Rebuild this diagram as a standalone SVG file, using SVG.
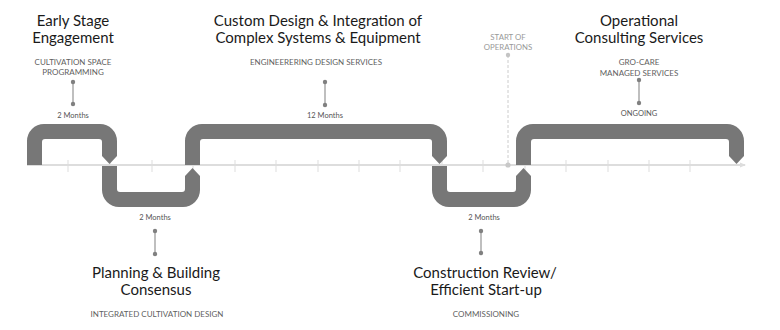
<svg xmlns="http://www.w3.org/2000/svg" width="780" height="330" viewBox="0 0 780 330">
<style>
.title{font-family:Lato,"Open Sans",sans-serif;font-size:15px;fill:#1a1a1a;text-anchor:middle}
.sub{font-family:Lato,"Open Sans",sans-serif;font-size:8px;fill:#5f5f5f;text-anchor:middle}
.dur{font-family:Lato,"Open Sans",sans-serif;font-size:7.5px;fill:#555;text-anchor:middle}
.start{font-family:Lato,"Open Sans",sans-serif;font-size:7.8px;fill:#999;text-anchor:middle}
.stem{stroke:#aaa;stroke-width:1.5}
.dot{fill:#808080}
.band{fill:#777}
.tick{stroke:#ddd;stroke-width:1}
</style>
<defs>
<marker id="axisArrow" markerWidth="6" markerHeight="6" refX="5" refY="3" orient="auto" markerUnits="userSpaceOnUse">
<path d="M0,0.5 L6,3 L0,5.5 Z" fill="#ddd"/>
</marker>
</defs>
<rect width="780" height="330" fill="#fff"/>

<g id="timeline">
<line x1="27" y1="165" x2="745" y2="165" stroke="#ddd" stroke-width="2" marker-end="url(#axisArrow)"/>
<line class="tick" x1="68" y1="160" x2="68" y2="172"/>
<line class="tick" x1="110" y1="160" x2="110" y2="172"/>
<line class="tick" x1="152" y1="160" x2="152" y2="172"/>
<line class="tick" x1="193" y1="160" x2="193" y2="172"/>
<line class="tick" x1="235" y1="160" x2="235" y2="172"/>
<line class="tick" x1="276" y1="160" x2="276" y2="172"/>
<line class="tick" x1="318" y1="160" x2="318" y2="172"/>
<line class="tick" x1="359" y1="160" x2="359" y2="172"/>
<line class="tick" x1="400" y1="160" x2="400" y2="172"/>
<line class="tick" x1="442" y1="160" x2="442" y2="172"/>
<line class="tick" x1="483" y1="160" x2="483" y2="172"/>
<line class="tick" x1="525" y1="160" x2="525" y2="172"/>
<line class="tick" x1="566" y1="160" x2="566" y2="172"/>
<line class="tick" x1="608" y1="160" x2="608" y2="172"/>
<line class="tick" x1="649" y1="160" x2="649" y2="172"/>
<line class="tick" x1="690" y1="160" x2="690" y2="172"/>
</g>

<g id="start-of-operations">
<text class="start" x="508" y="40">START OF</text>
<text class="start" x="508" y="50">OPERATIONS</text>
<line x1="508" y1="55" x2="508" y2="165" stroke="#ccc" stroke-width="1" stroke-dasharray="3,2"/>
<circle cx="508" cy="55" r="2.2" fill="#c4c4c4"/>
<circle cx="508" cy="165" r="2.6" fill="#c8c8c8"/>
</g>

<g id="connectors">
<path class="band" d="M27,165 L27,141 A17,17 0 0 1 44,124 L100,124 A17,17 0 0 1 117,141 L117,156 L109.5,164 L102,156 L102,142 A3,3 0 0 0 99,139 L45,139 A3,3 0 0 0 42,142 L42,165 Z"/>
<path class="band" d="M102,166 L102,190 A17,17 0 0 0 119,207 L183,207 A17,17 0 0 0 200,190 L200,176 L192.5,168 L185,176 L185,189 A3,3 0 0 1 182,192 L120,192 A3,3 0 0 1 117,189 L117,166 Z"/>
<path class="band" d="M185,165 L185,141 A17,17 0 0 1 202,124 L430,124 A17,17 0 0 1 447,141 L447,156 L439.5,164 L432,156 L432,142 A3,3 0 0 0 429,139 L203,139 A3,3 0 0 0 200,142 L200,165 Z"/>
<path class="band" d="M432,166 L432,190 A17,17 0 0 0 449,207 L514,207 A17,17 0 0 0 531,190 L531,176 L523.5,168 L516,176 L516,189 A3,3 0 0 1 513,192 L450,192 A3,3 0 0 1 447,189 L447,166 Z"/>
<path class="band" d="M516,165 L516,141 A17,17 0 0 1 533,124 L727,124 A17,17 0 0 1 744,141 L744,156 L736.5,164 L729,156 L729,142 A3,3 0 0 0 726,139 L534,139 A3,3 0 0 0 531,142 L531,165 Z"/>
</g>

<g id="early-stage">
<text class="title" x="73" y="26">Early Stage</text>
<text class="title" x="73" y="43">Engagement</text>
<text class="sub" x="73" y="65">CULTIVATION SPACE</text>
<text class="sub" x="73" y="75">PROGRAMMING</text>
<line class="stem" x1="73" y1="82" x2="73" y2="104"/>
<circle class="dot" cx="73" cy="82" r="2.2"/>
<circle class="dot" cx="73" cy="104" r="2.2"/>
<text class="dur" x="73" y="118">2 Months</text>
</g>

<g id="planning">
<text class="dur" x="155" y="220">2 Months</text>
<line class="stem" x1="155" y1="231" x2="155" y2="254"/>
<circle class="dot" cx="155" cy="231" r="2.2"/>
<circle class="dot" cx="155" cy="254" r="2.2"/>
<text class="title" x="156" y="278">Planning &amp; Building</text>
<text class="title" x="156" y="295">Consensus</text>
<text class="sub" x="157" y="317">INTEGRATED CULTIVATION DESIGN</text>
</g>

<g id="custom-design">
<text class="title" x="318" y="26">Custom Design &amp; Integration of</text>
<text class="title" x="318" y="43">Complex Systems &amp; Equipment</text>
<text class="sub" x="316" y="65">ENGINEERERING DESIGN SERVICES</text>
<line class="stem" x1="325" y1="82" x2="325" y2="105"/>
<circle class="dot" cx="325" cy="82" r="2.2"/>
<circle class="dot" cx="325" cy="105" r="2.2"/>
<text class="dur" x="325" y="118">12 Months</text>
</g>

<g id="construction-review">
<text class="dur" x="484" y="220">2 Months</text>
<line class="stem" x1="481" y1="231" x2="481" y2="253"/>
<circle class="dot" cx="481" cy="231" r="2.2"/>
<circle class="dot" cx="481" cy="253" r="2.2"/>
<text class="title" x="485" y="278">Construction Review/</text>
<text class="title" x="486" y="295">Efficient Start-up</text>
<text class="sub" x="486" y="317">COMMISSIONING</text>
</g>

<g id="operational-consulting">
<text class="title" x="639" y="26">Operational</text>
<text class="title" x="639" y="43">Consulting Services</text>
<text class="sub" x="639" y="65">GRO-CARE</text>
<text class="sub" x="639" y="76">MANAGED SERVICES</text>
<line class="stem" x1="639" y1="80" x2="639" y2="103"/>
<circle class="dot" cx="639" cy="80" r="2.2"/>
<circle class="dot" cx="639" cy="103" r="2.2"/>
<text class="dur" x="639" y="116">ONGOING</text>
</g>
</svg>
